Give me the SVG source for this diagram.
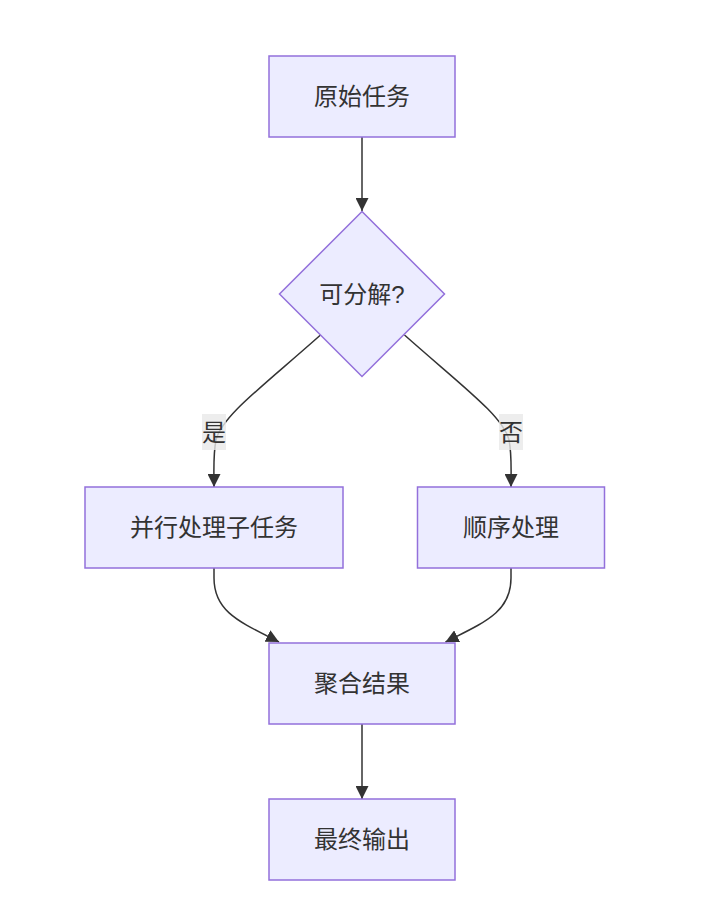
<svg xmlns="http://www.w3.org/2000/svg" width="710" height="918" viewBox="0 0 710 918">
<style>
.node rect,.node polygon{fill:#ECECFF;stroke:#9370DB;stroke-width:1.5}
text{font-family:"Liberation Sans","Noto Sans CJK SC",sans-serif;font-size:24px;fill:#333333;text-anchor:middle;dominant-baseline:central}
.edge{fill:none;stroke:#333333;stroke-width:1.5;marker-end:url(#arrow)}
.lbl{fill:rgba(232,232,232,0.8);stroke:none}
</style>
<defs>
<marker id="arrow" viewBox="0 0 10 10" refX="10" refY="5" markerUnits="userSpaceOnUse" markerWidth="13" markerHeight="13" orient="auto">
<path d="M0,0 L10,5 L0,10 z" fill="#333333"/>
</marker>
</defs>
<rect width="710" height="918" fill="#ffffff"/>
<g id="connectors">
<path class="edge" d="M362,137 L362,211"/>
<path class="edge" d="M320.5,335 C262,387 222,416 216,440 C213,455 214,470 214,487"/>
<path class="edge" d="M404.5,335 C463,387 503,416 509,440 C512,455 511,470 511,487"/>
<path class="edge" d="M214,568 L214,578 C214,612 240,622 279,642"/>
<path class="edge" d="M511,568 L511,578 C511,612 485,622 445.5,642"/>
<path class="edge" d="M362,724 L362,799"/>
<rect class="lbl" x="202" y="414" width="24" height="36"/>
<text x="214" y="432">是</text>
<rect class="lbl" x="499" y="414" width="24" height="36"/>
<text x="511" y="432">否</text>
</g>
<g id="A" class="node"><rect x="269" y="56" width="186" height="81"/><text x="362" y="96.5">原始任务</text></g>
<g id="B" class="node"><polygon points="362,211.5 444.5,294 362,376.5 279.5,294"/><text x="362" y="294">可分解?</text></g>
<g id="C" class="node"><rect x="85" y="487" width="258" height="81"/><text x="214" y="527.5">并行处理子任务</text></g>
<g id="D" class="node"><rect x="417.5" y="487" width="187" height="81"/><text x="511" y="527.5">顺序处理</text></g>
<g id="E" class="node"><rect x="269" y="643" width="186" height="81"/><text x="362" y="683.5">聚合结果</text></g>
<g id="F" class="node"><rect x="269" y="799" width="186" height="81"/><text x="362" y="839.5">最终输出</text></g>
</svg>
